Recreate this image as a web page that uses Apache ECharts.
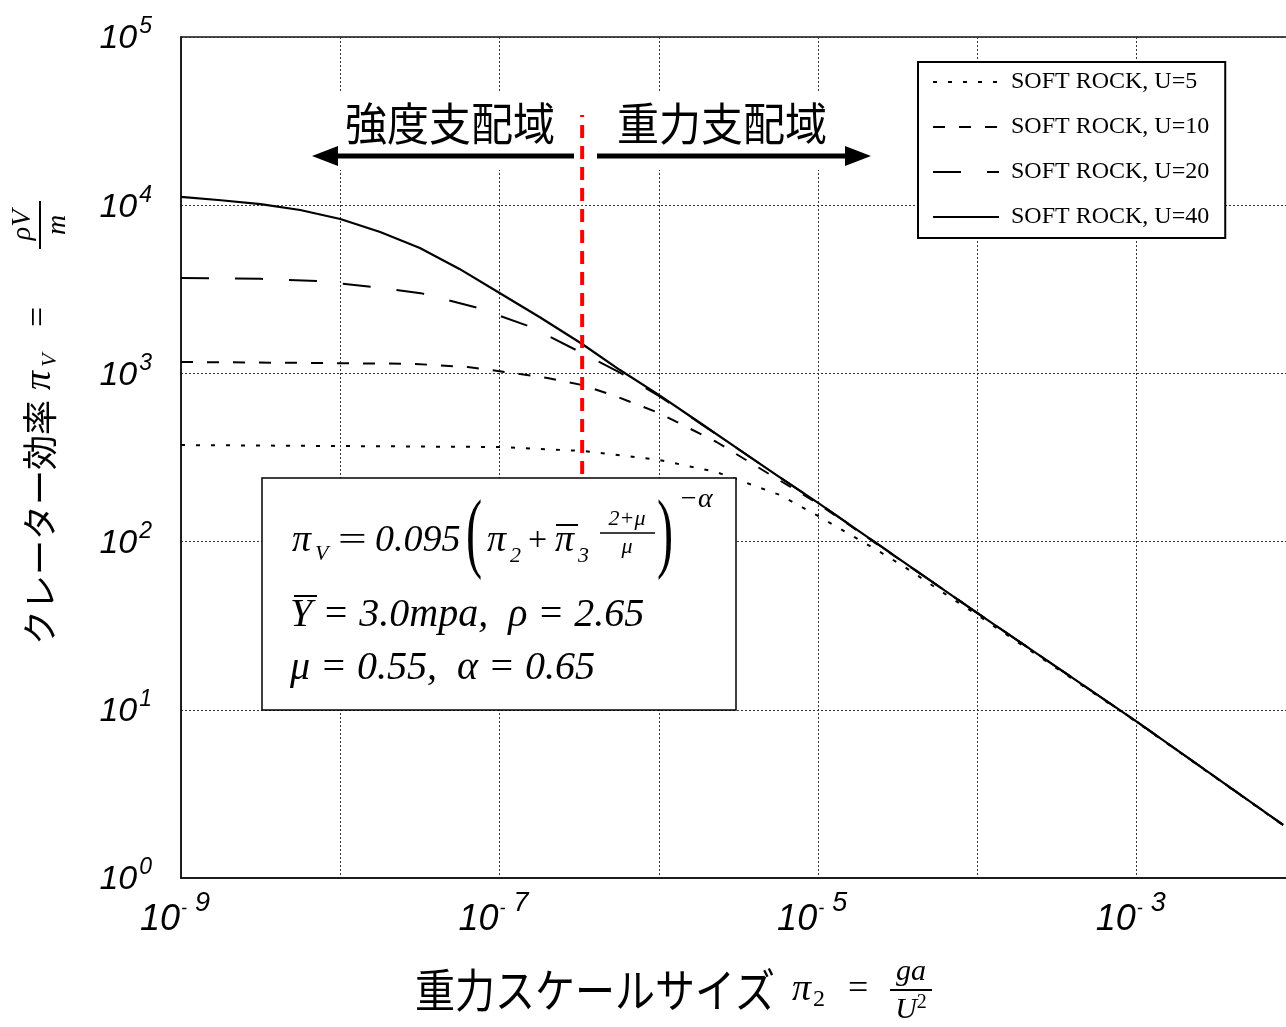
<!DOCTYPE html>
<html><head><meta charset="utf-8">
<script src="https://cdn.jsdelivr.net/npm/echarts@6/dist/echarts.min.js"></script>
<style>html,body{margin:0;padding:0;background:#fff}#c{width:1286px;height:1027px}</style>
</head><body><div id="c"></div>
<script>
// ---- data (pi2 on x, piV on y) ----
const u5X  = [1e-9, 1e-8, 1e-7, 3.3e-7, 1e-6, 2.3e-6, 5.7e-6, 1e-5, 2.34e-5, 3.5e-5, 6.4e-5, 1e-4, 1e-3, 8.3e-3];
const u5Y  = [375, 370, 365, 346, 306, 259, 190, 142, 89, 70.6, 48.2, 36.6, 8.45, 2.06];
const u10X = [1e-9, 1e-8, 2.9e-8, 6.3e-8, 1e-7, 2e-7, 3.3e-7, 5.2e-7, 1e-6, 2.3e-6, 5e-6, 1e-5, 1e-4, 1e-3, 8.3e-3];
const u10Y = [1170, 1150, 1140, 1090, 1030, 940, 853, 740, 582, 391, 250, 168, 37.6, 8.5, 2.07];
const u20X = [1e-9, 3.16e-9, 7.2e-9, 1.4e-8, 3.2e-8, 7.3e-8, 1.57e-7, 3.3e-7, 5.7e-7, 1e-6, 1.78e-6, 3.16e-6, 5.6e-6, 1e-5, 1e-4, 1e-3, 8.3e-3];
const u20Y = [3690, 3650, 3540, 3310, 3000, 2450, 1890, 1320, 1010, 735, 512, 354, 245, 170, 37.6, 8.5, 2.07];
const u40X = [1e-9, 1.78e-9, 3.16e-9, 5.6e-9, 1e-8, 1.78e-8, 3.16e-8, 5.6e-8, 1e-7, 1.78e-7, 3.3e-7, 5.7e-7, 1e-6, 1.78e-6, 3.16e-6, 5.6e-6, 1e-5, 1e-4, 1e-3, 8.3e-3];
const u40Y = [11200, 10700, 10150, 9360, 8280, 6930, 5570, 4180, 3006, 2165, 1496, 1047, 745, 514, 355, 245, 170, 37.6, 8.5, 2.07];
const seriesNames = ['SOFT ROCK, U=5', 'SOFT ROCK, U=10', 'SOFT ROCK, U=20', 'SOFT ROCK, U=40'];
// boundary between strength and gravity regimes
const boundaryX = [3.3e-7, 3.3e-7];
const boundaryY = [252, 34400];
// tick labels
const xLabelExponents = ['-9', '-7', '-5', '-3'];
const yLabelExponents = ['0', '1', '2', '3', '4', '5'];

const zip = (xs, ys) => xs.map((x, i) => [x, ys[i]]);
const CJK = '"Noto Sans CJK JP"';
const SERIF = '"Liberation Serif"';

const chart = echarts.init(document.getElementById('c'), null, {renderer: 'canvas'});

function lineSeries(name, xs, ys, type, width) {
  return {
    name, type: 'line', data: zip(xs, ys), symbol: 'none', smooth: false,
    lineStyle: {color: '#000', width: width, type: type, cap: 'butt', join: 'round'}, itemStyle: {color: '#000'}, z: 3, silent: true
  };
}

function txt(text, x, y, font, align, extra) {
  return Object.assign({type: 'text', x: x, y: y, z: 100,
    style: {text: text, font: font, fill: '#000', align: align || 'left', verticalAlign: 'middle'}}, extra || {});
}
function ln(x1, y1, x2, y2, w) {
  return {type: 'line', z: 100, shape: {x1, y1, x2, y2}, style: {stroke: '#000', lineWidth: w}};
}

const graphics = [
  // region annotation
  {type: 'rect', z: 10, shape: {x: 300, y: 92, width: 585, height: 78}, style: {fill: '#fff'}},
  txt('強度支配域', 450, 124, '42px ' + CJK, 'center', {scaleY: 1.08}),
  txt('重力支配域', 722, 124, '42px ' + CJK, 'center', {scaleY: 1.08}),
  ln(574, 156, 330, 156, 5),
  {type: 'polygon', z: 100, shape: {points: [[312, 156], [338, 146], [338, 166]]}, style: {fill: '#000'}},
  ln(597, 156, 850, 156, 5),
  {type: 'polygon', z: 100, shape: {points: [[871, 156], [845, 146], [845, 166]]}, style: {fill: '#000'}},
  // formula box
  {type: 'rect', z: 10, shape: {x: 262, y: 478, width: 474, height: 232}, style: {fill: '#fff', stroke: '#000', lineWidth: 1.5}},
  txt('π', 292, 541, 'italic 38px ' + SERIF),
  txt('V', 315, 554, 'italic 22px ' + SERIF),
  txt('=', 338, 541, '34px ' + SERIF, 'left', {scaleX: 1.5}),
  txt('0.095', 375, 541, 'italic 38px ' + SERIF),
  txt('(', 466, 538, '88px ' + SERIF, 'left', {scaleX: 0.55}),
  txt('π', 487, 541, 'italic 38px ' + SERIF),
  txt('2', 510, 556, 'italic 22px ' + SERIF),
  txt('+', 528, 541, '34px ' + SERIF),
  txt('π', 555, 541, 'italic 38px ' + SERIF),
  ln(556, 525, 578, 525, 2),
  txt('3', 578, 556, 'italic 22px ' + SERIF),
  txt('2+μ', 627, 519, 'italic 22px ' + SERIF, 'center'),
  ln(600, 533, 655, 533, 1.5),
  txt('μ', 627, 547, 'italic 22px ' + SERIF, 'center'),
  txt(')', 657, 538, '88px ' + SERIF, 'left', {scaleX: 0.55}),
  txt('−α', 679, 500, 'italic 28px ' + SERIF),
  txt('Y = 3.0mpa,  ρ = 2.65', 290, 615, 'italic 40px ' + SERIF),
  ln(294, 596, 317, 596, 2),
  txt('μ = 0.55,  α = 0.65', 290, 668, 'italic 40px ' + SERIF),
  // x axis title
  {type: 'group', x: 415, y: 990, z: 100, children: [
    txt('重力スケールサイズ', 0, 0, '40px ' + CJK, 'left', {scaleY: 1.15}),
    txt('π', 377, 0, 'italic 38px ' + SERIF),
    txt('2', 398, 10, '24px ' + SERIF),
    txt('=', 433, 0, '36px ' + SERIF),
    txt('ga', 496, -18, 'italic 30px ' + SERIF, 'center'),
    ln(475, 0, 517, 0, 2),
    {type: 'text', x: 496, y: 20, z: 100, style: {text: '{u|U}{p|2}', align: 'center', verticalAlign: 'middle', fill: '#000',
      rich: {u: {font: 'italic 30px ' + SERIF}, p: {font: '20px ' + SERIF, padding: [0, 0, 14, 0]}}}}
  ]},
  // y axis title (rotated)
  {type: 'group', x: 40, y: 645, rotation: Math.PI / 2, z: 100, children: [
    txt('クレーター効率', 0, 0, '35px ' + CJK),
    txt('π', 255, 0, 'italic 38px ' + SERIF),
    txt('V', 278, 10, 'italic 22px ' + SERIF),
    txt('=', 318, 0, '36px ' + SERIF),
    txt('ρV', 420, -17, 'italic 28px ' + SERIF, 'center'),
    ln(396, 0, 444, 0, 2),
    txt('m', 420, 18, 'italic 28px ' + SERIF, 'center')
  ]}
];

const option = {
  backgroundColor: '#fff',
  animation: false,
  grid: {left: 181, top: 37, right: -10, bottom: 149, outerBoundsMode: 'none', containLabel: false,
         show: true, borderColor: '#111', borderWidth: 1.5, backgroundColor: 'transparent'},
  legend: {
    data: seriesNames, orient: 'vertical', left: 918, top: 62,
    padding: [8, 16, 9, 14], itemGap: 21, itemWidth: 66, itemHeight: 14,
    backgroundColor: '#fff', borderColor: '#000', borderWidth: 2, borderRadius: 0,
    itemStyle: {opacity: 0},
    textStyle: {fontFamily: 'Liberation Serif', fontSize: 24, color: '#000', lineHeight: 24, padding: [0, 0, 0, 7]},
    selectedMode: false, z: 50
  },
  xAxis: {
    type: 'log', logBase: 10, min: 1e-9, max: 1e-2,
    axisLine: {show: true, onZero: false, lineStyle: {color: '#111', width: 1.5}},
    axisTick: {show: false},
    splitLine: {show: true, lineStyle: {color: '#333', width: 1, type: [2, 2]}},
    axisLabel: {
      interval: 0, margin: 12,
      formatter: function (v) {
        const e = String(Math.round(Math.log10(v)));
        if (xLabelExponents.indexOf(e) < 0) return '';
        return '{a|10}{m|-}{s|' + e.replace('-', '') + '}';
      },
      rich: {
        a: {fontSize: 36, fontStyle: 'italic', fontFamily: 'Liberation Sans', color: '#000'},
        m: {fontSize: 18, fontStyle: 'italic', fontFamily: 'Liberation Sans', color: '#000', padding: [0, 0, 22, 1]},
        s: {fontSize: 27, fontStyle: 'italic', fontFamily: 'Liberation Sans', color: '#000', padding: [0, 12, 32, 8]}
      }
    }
  },
  yAxis: {
    type: 'log', logBase: 10, min: 1, max: 1e5,
    axisLine: {show: true, onZero: false, lineStyle: {color: '#111', width: 1.5}},
    axisTick: {show: false},
    splitLine: {show: true, lineStyle: {color: '#333', width: 1, type: [2, 2]}},
    axisLabel: {
      interval: 0, margin: 29,
      formatter: function (v) {
        const e = String(Math.round(Math.log10(v)));
        if (yLabelExponents.indexOf(e) < 0) return '';
        return '{a|10}{s|' + e + '}';
      },
      rich: {
        a: {fontSize: 34, fontStyle: 'italic', fontFamily: 'Liberation Sans', color: '#000', padding: [4, 0, 0, 0]},
        s: {fontSize: 23, fontStyle: 'italic', fontFamily: 'Liberation Sans', color: '#000', padding: [0, 0, 20, 2]}
      }
    }
  },
  series: [
    lineSeries(seriesNames[0], u5X, u5Y, [4, 11], 2),
    lineSeries(seriesNames[1], u10X, u10Y, [12, 14], 2),
    lineSeries(seriesNames[2], u20X, u20Y, [28, 26], 2),
    lineSeries(seriesNames[3], u40X, u40Y, 'solid', 2.2),
    {name: 'boundary', type: 'line', data: zip(boundaryX, boundaryY), symbol: 'none', silent: true, z: 20,
     lineStyle: {color: '#ff0000', width: 4, type: [13, 8], cap: 'butt'}}
  ],
  graphic: graphics
};
chart.setOption(option);
</script></body></html>
